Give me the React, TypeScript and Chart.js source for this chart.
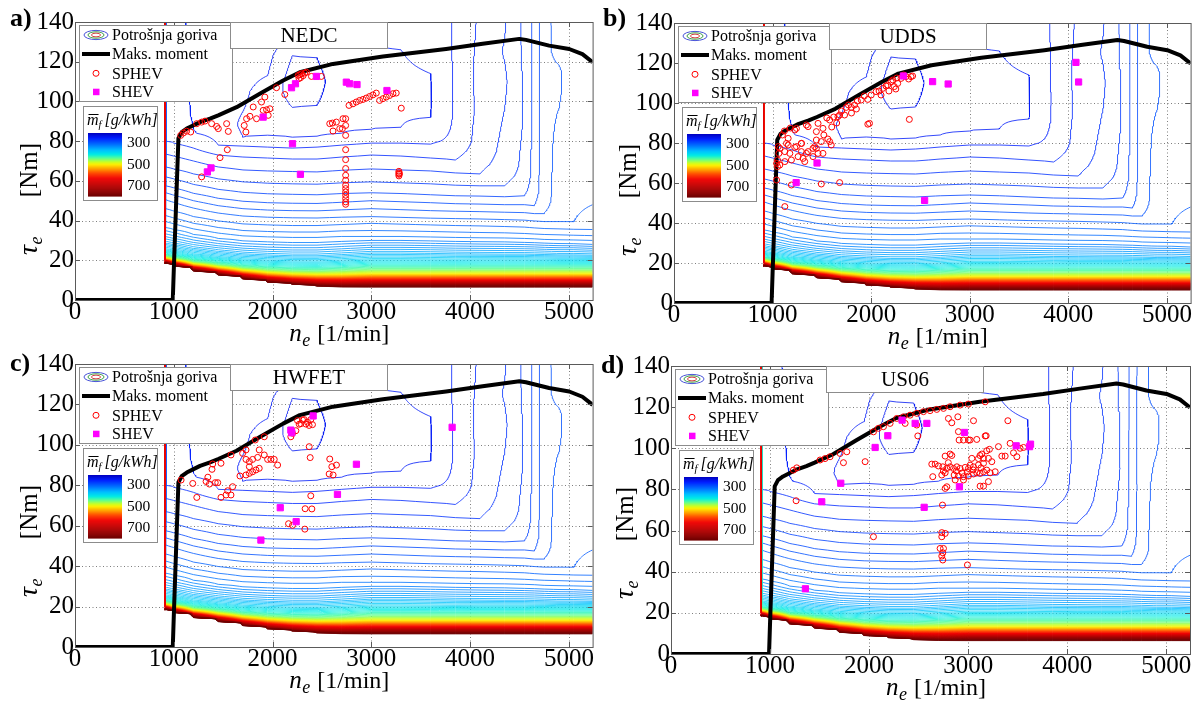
import React, { useEffect, useRef } from "react";
import { Chart, registerables } from "chart.js";

Chart.register(...registerables);

const SERIF = '"Liberation Serif", "Times New Roman", serif';

// ---------- axes ----------
const xTickValues = [0, 1000, 2000, 3000, 4000, 5000];
const yTickValues = [0, 20, 40, 60, 80, 100, 120, 140];
const X_MAX = 5240;
const Y_MAX = 140;

// ---------- legend / colorbar ----------
const legendLabels = ["Potrošnja goriva", "Maks. moment", "SPHEV", "SHEV"];
const colorbarTickValues = [300, 500, 700];
const colorbarTickLabels = ["300", "500", "700"];
const cycleTitles = ["NEDC", "UDDS", "HWFET", "US06"];
const panelLetters = ["a)", "b)", "c)", "d)"];

// ---------- maximum torque curve ----------
const torqueRpm = [0, 990, 1000, 1047, 1080, 1131, 1200, 1266, 1367, 1450, 1636, 1871, 2107, 2276, 2612, 3117, 3757, 4127, 4498, 4565, 4800, 5003, 5137, 5240];
const torqueNm = [0, 0, 15, 81.5, 84.5, 86.3, 88, 89.6, 91.3, 93, 97.1, 103.9, 110.5, 114.7, 118.9, 122.6, 126.4, 129, 131.5, 131, 128.1, 126.4, 123.8, 119.8];

// ---------- operating points [rpm, Nm] ----------
const sphevNEDC = [
  [1070, 82.9], [1097, 84.1], [1130, 85], [1171, 84.6], [1232, 88.8], [1282, 89.6], [1316, 90.1], [1383, 88.8], [1434, 87.4], [1451, 86.3],
  [1535, 88.8], [1552, 84.9], [1542, 75.7], [1468, 71.7], [1282, 62], [1713, 87.9], [1730, 84.6], [1737, 91.3], [1771, 92.5], [1804, 97.2],
  [1838, 91.3], [1888, 99.7], [1905, 95.5], [1939, 95.8], [1973, 96.3], [1956, 93], [1922, 102.2], [2040, 106.9], [2124, 103.5], [2259, 113.1],
  [2276, 113.5], [2293, 114], [2310, 113], [2326, 114.3], [2343, 114.7], [2268, 111.5], [2285, 112], [2394, 112.6], [2494, 112.6],
  [2740, 91.3], [2740, 87.9], [2740, 82.9], [2740, 75.7], [2740, 70.7], [2740, 66.2], [2740, 62.8], [2740, 60.3], [2740, 57.8], [2740, 56.1],
  [2740, 54.4], [2740, 52.8], [2740, 51.1], [2740, 49.4], [2740, 48.2], [2579, 88.8], [2606, 89.1], [2646, 89.6], [2612, 85.1], [2680, 86.3],
  [2713, 91.3], [2707, 86.3], [2774, 98], [2814, 98.8], [2848, 99.7], [2882, 100.5], [2915, 101], [2949, 101.7], [2983, 102.5], [3016, 103.3],
  [3050, 104.2], [3084, 100.5], [3118, 101.4], [3151, 102.2], [3185, 103], [3219, 103.9], [3252, 104.2], [3303, 96.6],
  [3279, 62.5], [3279, 63.3], [3279, 64], [3279, 64.8], [3285, 63.6],
];
const shevNEDC = [
  [1340, 64.5], [1377, 66.5], [1905, 92.1], [2202, 78.7], [2282, 63.3], [2192, 106.9], [2232, 108.9], [2444, 112.6], [2747, 109.7], [2781, 108.9],
  [2855, 108.5], [3158, 105.5],
];

const sphevUDDS = [
  [1057, 78.2], [1064, 74.8], [1050, 71.5], [1040, 69.8], [1050, 68.2], [1040, 61.5], [1158, 82.3], [1225, 86.5], [1360, 88.2], [1461, 89.8],
  [1511, 87.3], [1444, 85.7], [1579, 91.5], [1663, 93.2], [1730, 94], [1747, 97.8], [1798, 97.8], [1831, 99], [1899, 101.5], [1966, 101.8],
  [1983, 89.8], [1966, 89.4], [2050, 105.7], [2117, 107.3], [2168, 109], [2202, 110.7], [2235, 108.2], [2269, 109.8], [2303, 112.3], [2353, 113.2],
  [2404, 113.2], [2387, 91.8], [1158, 79], [1124, 75.7], [1225, 77.8], [1292, 79.8], [1444, 81.5], [1494, 80.7], [1595, 79], [1444, 77.3],
  [1360, 75.7], [1292, 75.7], [1259, 73.2], [1191, 71.5], [1124, 70.7], [1073, 69], [1191, 59], [1494, 59.5], [1680, 60.2], [1124, 48.2],
  [1427, 78.2], [1343, 74.8], [1326, 70.7], [1461, 74.8], [1074, 77.3], [1141, 79.8], [1242, 87.3], [1343, 89], [1175, 74.8], [1309, 72.3],
  [1410, 77.3], [1511, 74.8], [1579, 80.7], [1410, 73.2], [1242, 78.2], [1293, 79.8], [1680, 94], [1100, 84], [1120, 86], [1180, 87.5],
  [1550, 92.5], [1620, 93], [1700, 96], [1770, 99], [1860, 101], [1930, 103.5], [2000, 104], [2080, 106], [2150, 108.5], [2220, 111.5],
  [2260, 112.5], [2330, 114], [2380, 112], [2420, 113.5], [2250, 107], [2180, 106], [2100, 104], [1850, 97], [1800, 95], [1650, 90],
  [1600, 88], [1520, 84], [1560, 82],
];
const shevUDDS = [
  [2326, 113.5], [2623, 110.7], [2781, 109.5], [4077, 120.3], [4104, 110.5], [1451, 70], [1239, 60.2], [2542, 51.3],
];

const sphevHWFET = [
  [2253, 112], [2287, 110.5], [2320, 112.5], [2354, 111.2], [2387, 112.5], [2404, 110], [2370, 109.6], [2337, 110.3], [2303, 112.3], [2270, 110.2],
  [2185, 104], [2202, 105.7], [2236, 107], [2371, 99.1], [2381, 93.7], [2579, 93], [2600, 89.2], [2647, 90], [2573, 85.6], [2613, 85.1],
  [2387, 74.8], [2330, 68.4], [2398, 68.3], [2162, 61], [2202, 60.2], [2327, 58.3], [1916, 104], [1825, 102.4], [1865, 97.5], [1916, 95],
  [1950, 92.8], [1983, 92.8], [2017, 92.8], [2051, 90], [1849, 93.8], [1798, 92.8], [1765, 91.7], [1731, 92.8], [1865, 88.4], [1832, 87.6],
  [1798, 86.7], [1765, 85.9], [1731, 85.1], [1670, 84.6], [1765, 89.2], [1697, 95.8], [1731, 97.5], [1579, 95], [1478, 90.9], [1394, 90.5],
  [1387, 87.9], [1345, 84], [1327, 81.9], [1361, 80.6], [1445, 81.3], [1420, 81.3], [1192, 80.9], [1074, 82.6], [1233, 74], [1478, 74],
  [1529, 75.2], [1579, 75.2], [1546, 77.3], [1596, 79.3],
];
const shevHWFET = [
  [2411, 114.3], [2185, 107.3], [2195, 106], [3818, 108.7], [2849, 90.4], [2657, 75.5], [2078, 68.9], [2239, 62], [1882, 52.9],
];

const sphevUS06 = [
  [1236, 89.4], [1270, 90.5], [1505, 94.3], [1555, 95], [1606, 95.9], [1707, 97.5], [1775, 98.3], [1741, 93], [1960, 93.5], [2044, 108],
  [2094, 109.7], [2145, 110.5], [2212, 112.1], [2279, 114.5], [2347, 115.3], [2414, 116.1], [2481, 117], [2549, 117.8], [2616, 118.3], [2683, 118.9],
  [2751, 119.4], [2818, 120.2], [2919, 121], [3003, 121.5], [3172, 122.6], [2801, 114.5], [2835, 112.4], [2896, 115.3], [3054, 113.4], [3401, 113.4],
  [2364, 112.1], [2481, 111.3], [2492, 106], [2902, 108.1], [2953, 104], [3020, 104], [3087, 104.3], [3172, 106], [3306, 100.8], [3374, 96.2],
  [3424, 102.4], [3492, 95.9], [3458, 97.8], [3525, 100], [3559, 100.4], [3340, 96.2], [3188, 98.8], [3215, 99.5], [3155, 95.1], [3120, 96.5],
  [3037, 95.1], [3020, 91.8], [2970, 90.7], [2919, 90.2], [2886, 91], [2852, 90.2], [2818, 91], [2785, 90.2], [2744, 91], [2700, 91.4],
  [2667, 92.3], [2633, 92.3], [2768, 88.1], [2734, 87], [2750, 89], [2818, 97.2], [2835, 96.5], [2768, 96.2], [2859, 87], [2902, 86.5],
  [2953, 86.2], [3003, 86.5], [3054, 87.5], [3087, 88.1], [3121, 87.8], [3155, 88.6], [3188, 89.4], [3222, 88.1], [3003, 90.2], [3054, 91],
  [3104, 91.9], [3155, 92.7], [3104, 95], [3138, 97.2], [3205, 95.1], [3239, 93.5], [3273, 88.6], [2953, 84.6], [2869, 84.6], [2785, 81.3],
  [2768, 80.5], [2643, 86.2], [3121, 81.6], [3155, 81.6], [3205, 83.8], [3003, 104], [2909, 104], [3182, 106.1], [2880, 89], [2940, 88],
  [3050, 89.5], [3130, 90.5], [2990, 88.5], [2800, 93], [2741, 72.4], [2734, 59], [2768, 58.6], [2734, 57], [2717, 51.3], [2751, 51.3],
  [2744, 49.2], [2734, 47.6], [2744, 45.7], [2993, 43.3], [2044, 57], [1263, 74.5],
];
const shevUS06 = [
  [2333, 113.7], [2465, 112.1], [2583, 112.1], [2963, 107.7], [2189, 106.1], [2061, 100.4], [3485, 101.2], [3620, 100.8], [3630, 102], [1714, 83],
  [2912, 81.3], [1522, 74], [2556, 71.3], [1357, 31.7],
];

// ---------- fuel map (g/kWh) read per rpm column ----------
const mapRpm = [910, 918, 1000, 1200, 1450, 1700, 1950, 2200, 2450, 2700, 3000, 3300, 3600, 3850, 4100, 4350, 4550, 4650, 4750, 4900, 5050, 5240];
const MAP_BLANK = 1500;
const MAP_EDGE_VALUE = 650;
const mapBandLevels = [800, 760, 700, 620, 560, 500, 455, 420, 385, 355, 337, 322, 316, 310, 304, 298, 292, 286, 280, 274, 268, 262];
const mapBandT = [
  [],
  [18.5, 18.8, 19.2, 19.8, 20.3, 21, 21.8, 23, 25.5, 29, 32.5, 36.5, 39.5, 42.5, 46, 50.5, 54, 57.5, 62, 67, 73.5, 80],
  [17, 17.4, 17.9, 18.6, 19.2, 20, 20.9, 22.2, 24.8, 28.2, 31.6, 35.5, 38.4, 41.3, 44.8, 49.2, 52.8, 56.5, 61, 66, 72.5, 79],
  [14.5, 15, 15.6, 16.4, 17.1, 18, 19, 20.4, 23, 26.3, 29.5, 33, 35.8, 38.6, 42, 46.3, 50, 53.7, 58.2, 63.5, 70, 76.5],
  [12.5, 13, 13.7, 14.6, 15.4, 16.4, 17.5, 19, 21.6, 24.8, 27.8, 31, 33.7, 36.5, 39.8, 43.8, 47.5, 51.2, 55.7, 61, 67, 73],
  [10.5, 11, 11.8, 12.8, 13.7, 14.8, 16, 17.6, 20.4, 23.6, 26.6, 29.7, 32.3, 35, 38.3, 42.3, 46, 49.7, 54.2, 59.5, 65.5, 72],
  [8.8, 9.3, 10.2, 11.4, 12.4, 13.6, 15, 16.8, 19.8, 23, 26, 29.2, 31.8, 34.5, 37.8, 41.7, 45.3, 49, 53.5, 58.8, 65, 71.5],
  [7.6, 8.2, 9.2, 10.5, 11.6, 12.9, 14.4, 16.3, 19.4, 22.6, 25.7, 28.9, 31.5, 34.2, 37.5, 41.4, 45, 48.7, 53.2, 58.5, 64.7, 71],
  [6.8, 7.5, 8.5, 10, 11.2, 12.6, 14.2, 16.2, 19.3, 22.6, 25.7, 28.9, 31.5, 34.2, 37.5, 41.3, 44.9, 48.6, 53, 58.3, 64.5, 71],
  [6.5, 7.2, 8.3, 9.9, 11.2, 12.7, 14.5, 16.6, 19.8, 23.2, 26.3, 29.5, 32, 34.8, 38, 41.7, 45.4, 49.2, 53.6, 59, 65.3, 72],
  [6.4, 7.3, 8.5, 10, 11.5, 13, 15, 17.3, 20.5, 24, 27, 30, 32, 35, 38.6, 42, 46, 50, 54, 59.5, 66, 73],
  [6.4, 7.3, 8.5, 10, 11.5, 13, 15, 17.3, 20.5, 24, 27, 30, 32, 34.8, 38.2, 41.6, 45.5, 49.5, 53.6, 59, 65.5, 72.5],
  [6.4, 7.3, 8.5, 10, 11.5, 13, 15, 17.3, 20.4, 23.8, 26.8, 29.7, 31.7, 34.5, 37.8, 41.2, 45, 49, 53, 58.5, 65, 71.5],
  [6.4, 7.3, 8.5, 10, 11.5, 13, 15, 17.3, 20.3, 23.6, 26.6, 29.5, 31.5, 34.2, 37.5, 41, 44.7, 48.5, 52.5, 57.8, 64, 70.5],
  [6.4, 7.3, 8.5, 10, 11.5, 13, 15, 17.3, 20.4, 23.5, 26.5, 29.3, 31.3, 34, 37.3, 40.8, 44.5, 48.3, 52.3, 57.5, 63.5],
  [6.4, 7.3, 8.5, 10, 11.5, 13, 15, 17.3, 20.4, 23.4, 26.4, 29.2, 31.2, 33.8, 37, 40.5, 44.2, 48, 52, 57.5],
  [6.4, 7.3, 8.5, 10, 11.5, 13, 15, 17.3, 20.4, 23.4, 26.3, 29, 31, 33.5, 36.7, 40.2, 44, 48, 52.5],
  [6.4, 7.3, 8.5, 10, 11.5, 13, 15, 17.3, 20.3, 23.3, 26.2, 28.8, 30.8, 33.2, 36.3, 39.8, 43.5, 47.5],
  [6.4, 7.3, 8.5, 10, 11.5, 13, 15, 17.3, 20.3, 23.2, 26, 28.6, 30.5, 33, 36, 39.5, 43.5],
  [6.4, 7.3, 8.5, 10, 11.5, 13, 15, 17.3, 20.2, 23, 25.8, 28.4, 30.3, 32.8, 35.8, 39.5],
  [6.4, 7.3, 8.5, 10, 11.5, 13, 15, 17.3, 20.2, 23, 25.8, 28.3, 30.2, 32.6, 35.6, 39.3],
  [6.4, 7.3, 8.5, 10, 11.5, 13, 15, 17.3, 20.2, 22.8, 25.5, 28, 30, 32.4, 35.5],
];
const mapUpper = [
  [],
  [[100, 259], [140, 258]],
  [[95, 259], [140, 257.5]],
  [[84, 256.2], [92, 255.5], [115, 255], [140, 255]],
  [[78, 256], [90, 253], [110, 252], [140, 252.5]],
  [[77.5, 256], [82, 250], [88, 249], [95, 250], [112, 252], [140, 253]],
  [[77, 256], [83, 250], [95, 247], [105, 247], [113, 250], [128, 252.5], [140, 253]],
  [[76.5, 256], [82, 250], [97, 244], [110, 241], [123, 244], [132, 250], [140, 252]],
  [[77, 256], [82.5, 250], [98, 244], [110, 242.5], [122, 244], [132, 249], [140, 251]],
  [[78, 256], [84, 250], [100, 246.5], [115, 247], [130, 250], [140, 252]],
  [[79, 256], [86, 250], [104, 248], [120, 249], [128, 250], [140, 251.5]],
  [[79, 256], [87, 250], [105, 248.5], [118, 249.5], [126, 250], [140, 252]],
  [[78.5, 256], [92, 250], [104, 249.7], [114, 250], [140, 253.5]],
  [[80, 257], [100, 256.7], [120, 256.8], [140, 256.5]],
  [[75, 265], [95, 263.5], [115, 264], [140, 263]],
  [[68, 270], [90, 268.5], [110, 267], [125, 268.5], [140, 267.5]],
  [[62, 276], [90, 274.5], [120, 275], [140, 275.5]],
  [[55, 283], [90, 282], [140, 281.5]],
  [[50, 290], [80, 289], [110, 290.5], [140, 289.5]],
  [[46, 294.5], [80, 294], [105, 291], [115, 291], [125, 294], [140, 295]],
  [[48, 296.5], [75, 297.5], [100, 297], [140, 296.5]],
  [[40, 301], [48, 298], [56, 294], [80, 292.5], [110, 293], [140, 294]],
];
const LEVEL_START = 238;
const LEVEL_STEP = 6;
const LEVEL_COUNT = 94;
const MAP_ROW_STEP = 0.5;

// colour scale (fraction 0 = top/blue, 1 = bottom/dark red)
const cmapStops = [
  [0.0, 0, 0, 190], [0.08, 0, 30, 255], [0.18, 0, 110, 255], [0.27, 0, 190, 255], [0.34, 0, 235, 230], [0.4, 90, 255, 150],
  [0.46, 200, 255, 40], [0.5, 255, 240, 0], [0.56, 255, 170, 0], [0.64, 255, 70, 0], [0.72, 240, 0, 0], [0.85, 180, 0, 0], [1.0, 110, 0, 0],
];
function cmap(f: number): string {
  const g = Math.max(0, Math.min(1, f));
  for (let i = 1; i < cmapStops.length; i++) {
    const a = cmapStops[i - 1];
    const b = cmapStops[i];
    if (g <= b[0]) {
      const t = (g - a[0]) / (b[0] - a[0]);
      const r = Math.round(a[1] + (b[1] - a[1]) * t);
      const gg = Math.round(a[2] + (b[2] - a[2]) * t);
      const bb = Math.round(a[3] + (b[3] - a[3]) * t);
      return `rgb(${r},${gg},${bb})`;
    }
  }
  return "rgb(110,0,0)";
}
function valueToFrac(v: number) {
  return 0.158 + ((v - 300) * 0.342) / 200;
}

// ---------- contour construction ----------
function columnAnchors(c: number): number[][] {
  const bt = mapBandT[c];
  if (bt.length === 0) return [[0, MAP_BLANK], [18.0, MAP_BLANK], [18.3, MAP_EDGE_VALUE], [Y_MAX, MAP_EDGE_VALUE]];
  const a: number[][] = [[0, MAP_BLANK], [bt[0] - 0.4, MAP_BLANK]];
  bt.forEach((t, k) => a.push([t, mapBandLevels[k]]));
  mapUpper[c].forEach((p) => a.push(p));
  return a;
}
function interpAnchors(a: number[][], T: number) {
  if (T <= a[0][0]) return a[0][1];
  for (let k = 1; k < a.length; k++) {
    if (T <= a[k][0]) {
      const t0 = a[k - 1][0], v0 = a[k - 1][1], t1 = a[k][0], v1 = a[k][1];
      return v0 + ((v1 - v0) * (T - t0)) / (t1 - t0);
    }
  }
  return a[a.length - 1][1];
}

type Pt = { x: number | null; y: number | null };
let contourCache: { color: string; pts: Pt[] }[] | null = null;

function buildContours() {
  if (contourCache) return contourCache;
  const rowsT: number[] = [];
  for (let j = 0; j * MAP_ROW_STEP <= Y_MAX + 1e-9; j++) rowsT.push(j * MAP_ROW_STEP);
  const anchors = mapRpm.map((_, c) => columnAnchors(c));
  const grid = rowsT.map((T) => anchors.map((a) => interpAnchors(a, T)));
  const nx = mapRpm.length;
  const ny = rowsT.length;
  const out: { color: string; pts: Pt[] }[] = [];
  for (let k = 0; k < LEVEL_COUNT; k++) {
    const level = LEVEL_START + k * LEVEL_STEP;
    const L = level + 1e-3;
    const adj = new Map<number, number[]>();
    const pos = new Map<number, number[]>();
    const addPoint = (id: number) => {
      if (pos.has(id)) return;
      const cell = id >> 1;
      const j = Math.floor(cell / nx);
      const i = cell % nx;
      if ((id & 1) === 0) {
        const va = grid[j][i], vb = grid[j][i + 1];
        const t = (L - va) / (vb - va);
        pos.set(id, [mapRpm[i] + t * (mapRpm[i + 1] - mapRpm[i]), rowsT[j]]);
      } else {
        const va = grid[j][i], vb = grid[j + 1][i];
        const t = (L - va) / (vb - va);
        pos.set(id, [mapRpm[i], rowsT[j] + t * (rowsT[j + 1] - rowsT[j])]);
      }
    };
    const link = (a: number, b: number) => {
      addPoint(a);
      addPoint(b);
      if (!adj.has(a)) adj.set(a, []);
      if (!adj.has(b)) adj.set(b, []);
      adj.get(a)!.push(b);
      adj.get(b)!.push(a);
    };
    for (let j = 0; j < ny - 1; j++) {
      for (let i = 0; i < nx - 1; i++) {
        const v00 = grid[j][i], v10 = grid[j][i + 1], v11 = grid[j + 1][i + 1], v01 = grid[j + 1][i];
        let idx = 0;
        if (v00 >= L) idx |= 1;
        if (v10 >= L) idx |= 2;
        if (v11 >= L) idx |= 4;
        if (v01 >= L) idx |= 8;
        if (idx === 0 || idx === 15) continue;
        const B = (j * nx + i) * 2;
        const Tt = ((j + 1) * nx + i) * 2;
        const Le = (j * nx + i) * 2 + 1;
        const R = (j * nx + i + 1) * 2 + 1;
        const cen = (v00 + v10 + v11 + v01) / 4;
        switch (idx) {
          case 1: case 14: link(Le, B); break;
          case 2: case 13: link(B, R); break;
          case 3: case 12: link(Le, R); break;
          case 4: case 11: link(R, Tt); break;
          case 6: case 9: link(B, Tt); break;
          case 7: case 8: link(Le, Tt); break;
          case 5:
            if (cen >= L) { link(Le, Tt); link(B, R); } else { link(Le, B); link(R, Tt); }
            break;
          case 10:
            if (cen >= L) { link(Le, B); link(R, Tt); } else { link(B, R); link(Le, Tt); }
            break;
        }
      }
    }
    const used = new Set<number>();
    const pts: Pt[] = [];
    const walk = (start: number) => {
      const line = [start];
      used.add(start);
      let cur = start;
      for (;;) {
        const nb = adj.get(cur)!;
        let next = -1;
        for (const n of nb) if (!used.has(n)) { next = n; break; }
        if (next < 0) {
          if (line.length > 2 && nb.includes(start)) line.push(start);
          break;
        }
        used.add(next);
        line.push(next);
        cur = next;
      }
      for (const id of line) {
        const p = pos.get(id)!;
        pts.push({ x: p[0], y: p[1] });
      }
      pts.push({ x: null, y: null });
    };
    adj.forEach((nb, id) => { if (nb.length === 1 && !used.has(id)) walk(id); });
    adj.forEach((_, id) => { if (!used.has(id)) walk(id); });
    out.push({ color: cmap(valueToFrac(level)), pts });
  }
  contourCache = out;
  return out;
}

// ---------- panel layout ----------
const panels = [
  { left: 0, top: 0, w: 598, h: 350, ca: { l: 75, t: 22, r: 593, b: 300 }, lab: [10, 26], sphev: sphevNEDC, shev: shevNEDC },
  { left: 598, top: 0, w: 598, h: 350, ca: { l: 76, t: 23, r: 594, b: 303 }, lab: [5, 26], sphev: sphevUDDS, shev: shevUDDS },
  { left: 0, top: 350, w: 598, h: 351, ca: { l: 75, t: 14, r: 594, b: 297 }, lab: [10, 21], sphev: sphevHWFET, shev: shevHWFET },
  { left: 598, top: 350, w: 598, h: 351, ca: { l: 73, t: 16, r: 592, b: 304 }, lab: [3, 23], sphev: sphevUS06, shev: shevUS06 },
];

function makeDecor(pi: number) {
  const p = panels[pi];
  return {
    id: "decor",
    beforeDatasetsDraw(chart: any) {
      const { ctx, chartArea: ca, scales } = chart;
      ctx.save();
      ctx.strokeStyle = "rgba(0,0,0,0.5)";
      ctx.lineWidth = 1;
      ctx.setLineDash([1, 2.5]);
      ctx.beginPath();
      for (const v of xTickValues) {
        if (v <= 0) continue;
        const x = Math.round(scales.x.getPixelForValue(v)) + 0.5;
        ctx.moveTo(x, ca.top);
        ctx.lineTo(x, ca.bottom);
      }
      for (const v of yTickValues) {
        if (v <= 0 || v >= Y_MAX) continue;
        const y = Math.round(scales.y.getPixelForValue(v)) + 0.5;
        ctx.moveTo(ca.left, y);
        ctx.lineTo(ca.right, y);
      }
      ctx.stroke();
      ctx.restore();
    },
    afterDatasetsDraw(chart: any) {
      const { ctx, chartArea: ca, scales } = chart;
      ctx.save();
      ctx.strokeStyle = "#5a5a5a";
      ctx.lineWidth = 1;
      ctx.strokeRect(ca.left + 0.5, ca.top + 0.5, ca.right - ca.left, ca.bottom - ca.top);
      ctx.beginPath();
      for (const v of xTickValues) {
        const x = Math.round(scales.x.getPixelForValue(v)) + 0.5;
        ctx.moveTo(x, ca.bottom);
        ctx.lineTo(x, ca.bottom - 5);
        ctx.moveTo(x, ca.top);
        ctx.lineTo(x, ca.top + 5);
      }
      for (const v of yTickValues) {
        const y = Math.round(scales.y.getPixelForValue(v)) + 0.5;
        ctx.moveTo(ca.left, y);
        ctx.lineTo(ca.left + 5, y);
        ctx.moveTo(ca.right, y);
        ctx.lineTo(ca.right - 5, y);
      }
      ctx.stroke();

      // legend box
      const lx = ca.left + 4, ly = ca.top + 3, lw = 153, lh = 76;
      ctx.fillStyle = "#fff";
      ctx.fillRect(lx, ly, lw, lh);
      ctx.strokeStyle = "#8c8c8c";
      ctx.strokeRect(lx + 0.5, ly + 0.5, lw, lh);
      const rows = [10, 29, 48.3, 66.7].map((d) => ly + d);
      const icx = ca.left + 21;
      ctx.lineWidth = 1;
      ctx.strokeStyle = "#4a55d8";
      ctx.beginPath(); ctx.ellipse(icx, rows[0], 12, 4.6, 0, 0, Math.PI * 2); ctx.stroke();
      ctx.strokeStyle = "#3fa04a";
      ctx.beginPath(); ctx.ellipse(icx, rows[0], 8, 3.2, 0, 0, Math.PI * 2); ctx.stroke();
      ctx.strokeStyle = "#d03a3a";
      ctx.beginPath(); ctx.ellipse(icx, rows[0], 4.5, 1.9, 0, 0, Math.PI * 2); ctx.stroke();
      ctx.strokeStyle = "#000";
      ctx.lineWidth = 4;
      ctx.beginPath(); ctx.moveTo(ca.left + 7, rows[1]); ctx.lineTo(ca.left + 35, rows[1]); ctx.stroke();
      ctx.lineWidth = 1;
      ctx.strokeStyle = "#ff0000";
      ctx.beginPath(); ctx.arc(icx, rows[2], 3, 0, Math.PI * 2); ctx.stroke();
      ctx.fillStyle = "#ff00ff";
      ctx.fillRect(icx - 3, rows[3] - 3, 6.5, 6.5);
      ctx.fillStyle = "#000";
      ctx.font = `16px ${SERIF}`;
      ctx.textAlign = "left";
      ctx.textBaseline = "middle";
      legendLabels.forEach((t, k) => ctx.fillText(t, ca.left + 37, rows[k] + 1));

      // colorbar box
      const bx = ca.left + 8, by = ca.top + 84, bw = 74, bh = 94;
      ctx.fillStyle = "#fff";
      ctx.fillRect(bx, by, bw, bh);
      ctx.strokeStyle = "#8c8c8c";
      ctx.strokeRect(bx + 0.5, by + 0.5, bw, bh);
      ctx.fillStyle = "#000";
      ctx.textBaseline = "alphabetic";
      let tx = bx + 4;
      const base = by + 19;
      ctx.font = `italic 16px ${SERIF}`;
      ctx.fillText("m", tx, base);
      const mw = ctx.measureText("m").width;
      ctx.fillRect(tx + 1.5, base - 11, mw - 1.5, 1);
      tx += mw;
      ctx.font = `italic 10.5px ${SERIF}`;
      ctx.fillText("f", tx, base + 3);
      tx += ctx.measureText("f").width + 3;
      ctx.font = `italic 16px ${SERIF}`;
      ctx.fillText("[g/kWh]", tx, base);
      const gx = bx + 5, gy = by + 27, gw = 34, gh = 63;
      const n = 64;
      for (let k = 0; k < n; k++) {
        ctx.fillStyle = cmap((k + 0.5) / n);
        ctx.fillRect(gx, gy + (k * gh) / n, gw, gh / n + 0.6);
      }
      ctx.fillStyle = "#000";
      ctx.font = `15.5px ${SERIF}`;
      ctx.textBaseline = "middle";
      colorbarTickValues.forEach((v, k) => {
        ctx.fillText(colorbarTickLabels[k], gx + gw + 5, gy + valueToFrac(v) * gh);
      });

      // cycle title box
      const txb = ca.left + 155, tyb = ca.top, tw = 157, th = 26;
      ctx.fillStyle = "#fff";
      ctx.fillRect(txb, tyb, tw, th);
      ctx.strokeStyle = "#8c8c8c";
      ctx.strokeRect(txb + 0.5, tyb + 0.5, tw, th);
      ctx.fillStyle = "#000";
      ctx.font = `21px ${SERIF}`;
      ctx.textAlign = "center";
      ctx.fillText(cycleTitles[pi], txb + 79, tyb + 14);
      ctx.restore();
    },
    afterDraw(chart: any) {
      const { ctx, chartArea: ca } = chart;
      ctx.save();
      ctx.fillStyle = "#000";
      ctx.textBaseline = "alphabetic";
      ctx.textAlign = "left";
      const cx = (ca.left + ca.right) / 2;
      const byl = ca.bottom + 41;
      ctx.font = `italic 25px ${SERIF}`;
      ctx.fillText("n", cx - 44.5, byl);
      ctx.font = `italic 18px ${SERIF}`;
      ctx.fillText("e", cx - 31.5, byl + 5);
      ctx.font = `24px ${SERIF}`;
      ctx.fillText("[1/min]", cx - 16.5, byl);
      ctx.translate(ca.left - 38, ca.top + 233);
      ctx.rotate(-Math.PI / 2);
      ctx.font = `italic 28px ${SERIF}`;
      ctx.fillText("τ", 0, 0);
      const tw = ctx.measureText("τ").width;
      ctx.font = `italic 18px ${SERIF}`;
      ctx.fillText("e", tw + 0.5, 5);
      ctx.font = `25px ${SERIF}`;
      ctx.textAlign = "right";
      ctx.fillText("[Nm]", 112, 0);
      ctx.setTransform(1, 0, 0, 1, 0, 0);
      ctx.textAlign = "left";
      ctx.font = `bold 26px ${SERIF}`;
      ctx.fillText(panelLetters[pi], p.lab[0], p.lab[1]);
      ctx.restore();
    },
  };
}

function buildConfig(pi: number): any {
  const p = panels[pi];
  const contours = buildContours();
  const datasets: any[] = contours.map((c, k) => ({
    type: "line",
    data: c.pts.slice(),
    borderColor: c.color,
    borderWidth: 0.8,
    pointRadius: 0,
    pointHoverRadius: 0,
    pointHitRadius: 0,
    tension: 0,
    spanGaps: false,
    fill: false,
    order: 1000 - k,
  }));
  datasets.push({
    type: "line",
    label: "Maks. moment",
    data: torqueRpm.map((x, i) => ({ x, y: torqueNm[i] })),
    borderColor: "#000",
    borderWidth: 4,
    borderJoinStyle: "round",
    pointRadius: 0,
    tension: 0,
    fill: false,
    order: 3,
  });
  datasets.push({
    type: "scatter",
    label: "SPHEV",
    data: p.sphev.map(([x, y]) => ({ x, y })),
    pointStyle: "circle",
    pointRadius: 3,
    pointBorderWidth: 1,
    pointBorderColor: "#ff0000",
    pointBackgroundColor: "rgba(255,255,255,0)",
    borderColor: "#ff0000",
    backgroundColor: "rgba(255,255,255,0)",
    order: 2,
  });
  datasets.push({
    type: "scatter",
    label: "SHEV",
    data: p.shev.map(([x, y]) => ({ x, y })),
    pointStyle: "rect",
    pointRadius: 4.4,
    pointBorderWidth: 1,
    pointBorderColor: "#ff00ff",
    pointBackgroundColor: "#ff00ff",
    borderColor: "#ff00ff",
    backgroundColor: "#ff00ff",
    order: 1,
  });
  const tickFont = { family: SERIF, size: 25 };
  return {
    type: "scatter",
    data: { datasets },
    options: {
      animation: false,
      responsive: false,
      events: [],
      layout: { padding: { left: 0, top: p.ca.t, right: p.w - p.ca.r, bottom: 0 } },
      plugins: { legend: { display: false }, tooltip: { enabled: false } },
      scales: {
        x: {
          type: "linear",
          min: 0,
          max: X_MAX,
          grid: { display: false, drawTicks: false },
          border: { display: false },
          afterBuildTicks: (s: any) => {
            s.ticks = xTickValues.map((v) => ({ value: v }));
          },
          ticks: {
            autoSkip: false,
            maxRotation: 0,
            minRotation: 0,
            padding: -3,
            color: "#000",
            font: tickFont,
            callback: (v: any) => String(v),
          },
          afterFit: (s: any) => {
            s.height = p.h - p.ca.b;
            s.paddingLeft = 0;
            s.paddingRight = 0;
          },
        },
        y: {
          type: "linear",
          min: 0,
          max: Y_MAX,
          grid: { display: false, drawTicks: false },
          border: { display: false },
          afterBuildTicks: (s: any) => {
            s.ticks = yTickValues.map((v) => ({ value: v }));
          },
          ticks: {
            autoSkip: false,
            padding: 1,
            color: "#000",
            font: tickFont,
            callback: (v: any) => String(v),
          },
          afterFit: (s: any) => {
            s.width = p.ca.l;
            s.paddingTop = 0;
            s.paddingBottom = 0;
          },
        },
      },
    },
    plugins: [makeDecor(pi)],
  };
}

export default function App() {
  const r0 = useRef<HTMLCanvasElement>(null);
  const r1 = useRef<HTMLCanvasElement>(null);
  const r2 = useRef<HTMLCanvasElement>(null);
  const r3 = useRef<HTMLCanvasElement>(null);
  const refs = [r0, r1, r2, r3];
  useEffect(() => {
    const charts = refs.map((r, i) => new Chart(r.current as HTMLCanvasElement, buildConfig(i)));
    return () => charts.forEach((c) => c.destroy());
  }, []);
  return (
    <div style={{ position: "absolute", left: 0, top: 0, width: 1196, height: 701, background: "#fff", overflow: "hidden" }}>
      {panels.map((p, i) => (
        <canvas
          key={i}
          ref={refs[i]}
          width={p.w}
          height={p.h}
          style={{ position: "absolute", left: p.left, top: p.top, width: p.w, height: p.h }}
        />
      ))}
    </div>
  );
}
